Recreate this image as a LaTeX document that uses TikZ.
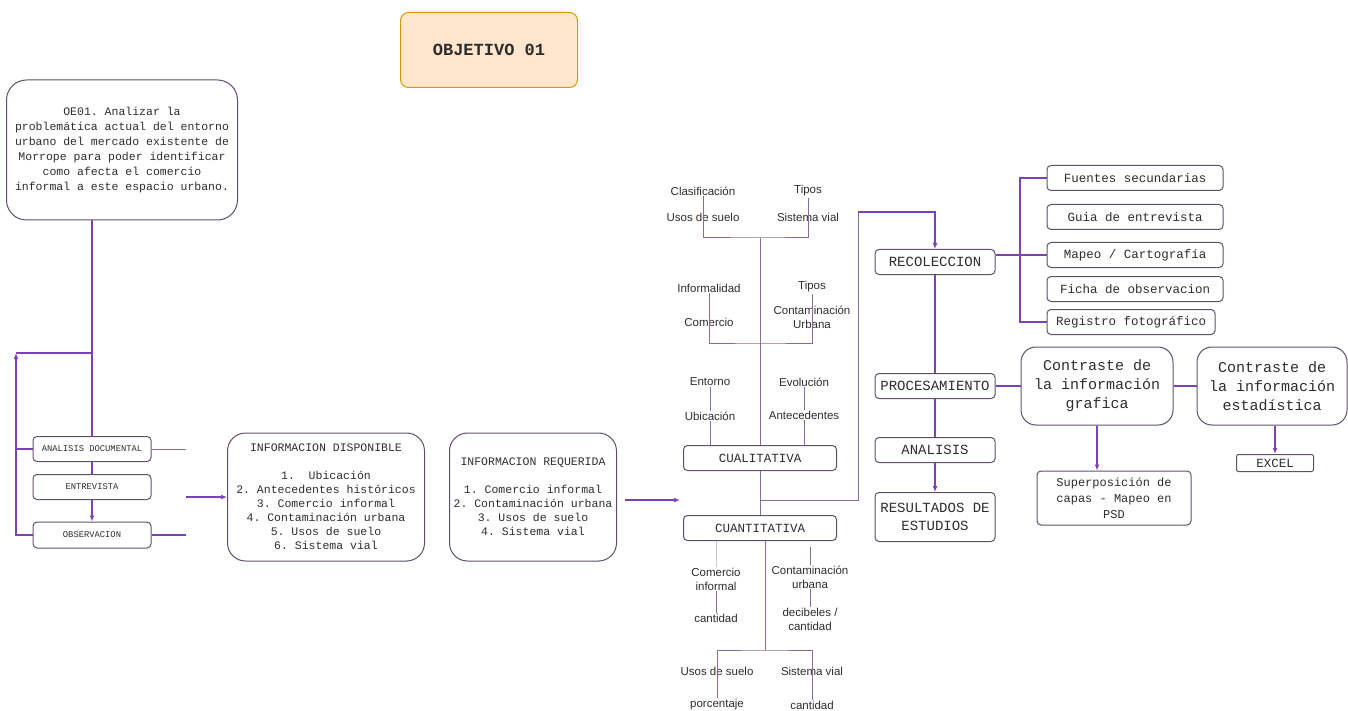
\documentclass[tikz,border=0pt]{standalone}
\usepackage{fontspec}
\setmonofont{Liberation Mono}
\setsansfont{Liberation Sans}
\usetikzlibrary{arrows.meta,positioning}
\definecolor{boxline}{RGB}{95,80,105}
\definecolor{vline}{RGB}{125,65,185}
\definecolor{tline}{RGB}{135,110,150}
\definecolor{objfill}{RGB}{255,230,204}
\definecolor{objline}{RGB}{215,155,0}
\definecolor{txt}{RGB}{45,45,45}

\begin{document}
\begin{tikzpicture}[
  x=1pt, y=-1pt,
  box/.style={draw=boxline, line width=1pt, rounded corners=4pt, align=center, text=txt,
              inner sep=1pt, font=\ttfamily\fontsize{12.5}{15}\selectfont},
  big/.style={box, rounded corners=18pt, font=\ttfamily\fontsize{11.5}{14}\selectfont},
  sbox/.style={box, minimum width=118pt, minimum height=25pt, font=\ttfamily\fontsize{8.8}{10}\selectfont},
  mbox/.style={box, minimum width=153pt, minimum height=25pt, font=\ttfamily\fontsize{12.5}{15}\selectfont},
  rbox/.style={box, minimum width=120pt, minimum height=25pt, font=\ttfamily\fontsize{14}{18}\selectfont},
  lbox/.style={box, minimum width=176pt, minimum height=25pt},
  cbox/.style={box, rounded corners=15pt, minimum width=152pt, minimum height=78pt,
               font=\ttfamily\fontsize{15}{19}\selectfont},
  lab/.style={align=center, text=txt, inner sep=1pt, font=\sffamily\fontsize{11.5}{14}\selectfont},
  ln/.style={draw=vline, line width=1.2pt},
  tln/.style={draw=tline, line width=1pt},
  fln/.style={draw=tline!40, line width=1pt},
  arr/.style={ln, -{Latex[length=6pt,width=5pt]}}
]
\useasboundingbox (0,0) rectangle (1348,711);

\node[box, fill=objfill, draw=objline, rounded corners=8pt, minimum width=177pt, minimum height=75pt,
      font=\ttfamily\bfseries\fontsize{17}{20}\selectfont] (obj) at (489,50) {OBJETIVO 01};
\node[big, rounded corners=20pt, minimum width=231pt, minimum height=140pt,
      font=\ttfamily\fontsize{11.5}{15}\selectfont] (oe) at (122,150)
  {OE01. Analizar la\\problemática actual del entorno\\urbano del mercado existente de\\Morrope para poder identificar\\como afecta el comercio\\informal a este espacio urbano.};

\node[sbox] (ad) at (92,449) {ANALISIS DOCUMENTAL};
\node[sbox] (entr) at (92,487) {ENTREVISTA};
\node[sbox, minimum height=26pt] (obs) at (92,535) {OBSERVACION};

\node[big, minimum width=197pt, minimum height=128pt] (disp) at (326,497)
  {INFORMACION DISPONIBLE\\[14pt]1.\ \ Ubicación\\2. Antecedentes históricos\\3. Comercio informal\\4. Contaminación urbana\\5. Usos de suelo\\6. Sistema vial};
\node[big, minimum width=167pt, minimum height=128pt] (req) at (533,497)
  {INFORMACION REQUERIDA\\[14pt]1. Comercio informal\\2. Contaminación urbana\\3. Usos de suelo\\4. Sistema vial};

\coordinate (lp) at (16,353);
\coordinate (s1) at (186,449);
\coordinate (s2) at (186,535);
\coordinate (s3) at (186,497);
\coordinate (s4) at (625,500);
\coordinate (s5) at (680,500);
\draw[ln] (ad.north |- oe.south) -- (ad.north);
\draw[ln] (lp) -- (lp -| ad.north);
\draw[arr] (obs.west) -| (lp);
\draw[ln] (lp |- ad.west) -- (ad.west);
\draw[ln] (ad) -- (entr);
\draw[arr] (entr) -- (obs);
\draw[tln] (ad.east) -- (s1);
\draw[ln] (obs.east) -- (s2);
\draw[arr] (s3) -- (disp.west);
\draw[arr] (s4) -- (s5);

\node[mbox] (cual) at (760,458) {CUALITATIVA};
\node[mbox] (cuan) at (760,528) {CUANTITATIVA};

\node[lab] (cla) at (703,191) {Clasificación};
\node[lab] (uso1) at (703,217) {Usos de suelo};
\node[lab] (tip1) at (808,191) {Tipos};
\node[lab] (sis1) at (808,217) {Sistema vial};
\node[lab] (inf) at (709,288) {Informalidad};
\node[lab] (com1) at (709,322) {Comercio};
\node[lab] (tip2) at (812,287) {Tipos};
\node[lab] (con1) at (812,317) {Contaminación\\Urbana};
\node[lab] (ento) at (710,382) {Entorno};
\node[lab] (ubi) at (710,416) {Ubicación};
\node[lab] (evo) at (804,382) {Evolución};
\node[lab] (ant) at (804,415) {Antecedentes};
\coordinate (j1) at (760,238);
\coordinate (j2) at (760,343);
\draw[tln] (cla.south) |- (j1) -| (tip1.south);
\draw[tln] (inf.south) |- (j2) -| (tip2.south);
\draw[tln] (j1) -- (cual.north);
\draw[tln] (ento) -- (ubi);
\draw[tln] (evo) -- (ant);
\draw[tln] (ubi) -- (ubi |- cual.north);
\draw[tln] (ant) -- (ant |- cual.north);

\node[lab] (com2) at (716,579) {Comercio\\informal};
\node[lab] (can1) at (716,618) {cantidad};
\node[lab] (con2) at (810,577) {Contaminación\\urbana};
\node[lab] (dec) at (810,619) {decibeles /\\cantidad};
\node[lab] (uso2) at (717,671) {Usos de suelo};
\node[lab] (por) at (717,705) {porcentaje};
\node[lab] (sis2) at (812,671) {Sistema vial};
\node[lab] (can2) at (812,705) {cantidad};
\coordinate (j3) at (765,650);
\draw[fln] (cuan.south -| com2) -- (com2);
\draw[tln] (com2) -- (can1);
\draw[tln] (cuan.south -| con2) ++(0,6) -- (con2);
\draw[tln] (con2) -- (dec);
\draw[tln] (cuan.south -| j3) -- (j3);
\draw[tln] (por.north) |- (j3) -| (can2.north);

\node[rbox] (reco) at (935,262) {RECOLECCION};
\node[rbox] (proc) at (935,386) {PROCESAMIENTO};
\node[rbox] (anal) at (935,450) {ANALISIS};
\node[rbox, minimum height=49pt] (res) at (935,517) {RESULTADOS DE\\ESTUDIOS};
\coordinate (b1) at (760,500);
\coordinate (up) at (858,212);
\draw[tln] (cual) -- (cuan);
\draw[tln] (b1) -| (up);
\draw[arr] (up) -| (reco.north);
\draw[ln] (reco) -- (proc);
\draw[ln] (proc) -- (anal);
\draw[arr] (anal) -- (res);

\node[lbox] (fue) at (1135,178) {Fuentes secundarias};
\node[lbox] (gui) at (1135,217) {Guia de entrevista};
\node[lbox] (map) at (1135,255) {Mapeo / Cartografía};
\node[lbox] (fic) at (1135,289) {Ficha de observacion};
\node[lbox, minimum width=168pt] (reg) at (1131,322) {Registro fotográfico};
\coordinate (k1) at (1020,178);
\coordinate (k2) at (1020,322);
\draw[ln] (fue.west) -- (k1) -- (k2) -- (reg.west);
\draw[ln] (reco.east |- map.west) -- (map.west);

\node[cbox] (graf) at (1097,386) {Contraste de\\la información\\grafica};
\node[cbox, minimum width=150pt] (est) at (1272,386) {Contraste de\\la información\\estadística};
\node[box, minimum width=154pt, minimum height=54pt, font=\ttfamily\fontsize{12}{16}\selectfont] (sup) at (1114,498)
  {Superposición de\\capas - Mapeo en\\PSD};
\node[box, rounded corners=2pt, minimum width=77pt, minimum height=17pt] (exc) at (1275,463) {EXCEL};
\draw[ln] (proc) -- (graf);
\draw[ln] (graf) -- (est);
\draw[arr] (graf.south) -- (graf.south |- sup.north);
\draw[arr] (est.south -| exc) -- (exc);
\end{tikzpicture}
\end{document}
